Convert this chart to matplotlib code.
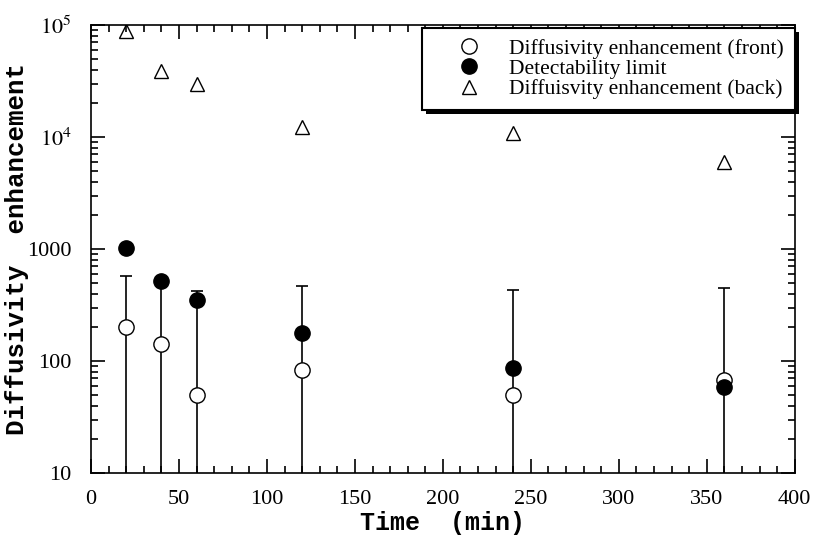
import numpy as np
import matplotlib
matplotlib.use('Agg')
import matplotlib.pyplot as plt
from matplotlib.patches import Rectangle
from matplotlib.ticker import FixedLocator, FixedFormatter, LogLocator, NullFormatter, MultipleLocator

# data
time_min = [20, 40, 60, 120, 240, 360]
front = [200, 141, 50, 83, 50, 67]
front_upper = [569, 500, 419, 463, 427, 445]
detect_limit = [1030, 513, 348, 177, 86, 58]
back = [88500, 39000, 29800, 12300, 10900, 6000]

y_ticks = [10, 100, 1000, 1e4, 1e5]
y_ticklabels = ['10', '100', '1000', r'$10^4$', r'$10^5$']

plt.rcParams['font.family'] = 'Liberation Serif'
plt.rcParams['mathtext.fontset'] = 'stix'

fig = plt.figure(figsize=(8.16, 5.42), dpi=100)
ax = fig.add_axes([0.1115, 0.1273, 0.8625, 0.8266])

# error bars on the front series, lower whiskers run off the bottom
t = np.array(time_min)
f = np.array(front)
lower = f - 5.0
upper = np.array(front_upper) - f
ax.errorbar(t, f, yerr=[lower, upper], fmt='none', ecolor='black',
            elinewidth=1.2, capsize=4, capthick=1.2, zorder=2)

ax.plot(time_min, front, linestyle='none', marker='o', markersize=11,
        markerfacecolor='white', markeredgecolor='black', markeredgewidth=1.0,
        label='Diffusivity enhancement (front)', zorder=3)
ax.plot(time_min, detect_limit, linestyle='none', marker='o', markersize=11,
        markerfacecolor='black', markeredgecolor='black',
        label='Detectability limit', zorder=4)
ax.plot(time_min, back, linestyle='none', marker='^', markersize=10,
        markerfacecolor='none', markeredgecolor='black', markeredgewidth=1.0,
        label='Diffuisvity enhancement (back)', zorder=3)

ax.set_yscale('log')
ax.set_xlim(0, 400)
ax.set_ylim(10, 1e5)

ax.xaxis.set_major_locator(MultipleLocator(50))
ax.xaxis.set_minor_locator(MultipleLocator(10))
ax.yaxis.set_major_locator(FixedLocator(y_ticks))
ax.yaxis.set_major_formatter(FixedFormatter(y_ticklabels))
ax.yaxis.set_minor_locator(LogLocator(base=10, subs=np.arange(2, 10)))
ax.yaxis.set_minor_formatter(NullFormatter())

ax.tick_params(which='both', direction='in', top=True, right=True, width=1.2)
ax.tick_params(which='major', length=10)
ax.tick_params(which='minor', length=5)
ax.tick_params(axis='x', which='major', labelsize=16, pad=12)
ax.tick_params(axis='y', which='major', labelsize=16, pad=14)
for s in ax.spines.values():
    s.set_linewidth(1.2)

ax.set_xlabel('Time  (min)', family='Liberation Mono', fontweight='bold',
              fontsize=18)
ax.set_ylabel('Diffusivity  enhancement', family='Liberation Mono',
              fontweight='bold', fontsize=18.5)
ax.xaxis.set_label_coords(0.5, -0.084)
ax.yaxis.set_label_coords(-0.088, 0.5)

leg = ax.legend(loc='upper right', bbox_to_anchor=(1.0, 0.993), borderaxespad=0,
                fontsize=15.5, frameon=True, fancybox=False, framealpha=1,
                edgecolor='black', handlelength=3.4, handletextpad=0.15,
                labelspacing=0.0, borderpad=0.5)
leg.get_frame().set_linewidth(1.5)
leg.set_zorder(10)

# hard black drop shadow behind the legend box
fig.canvas.draw()
bb = leg.get_window_extent()
shadow = Rectangle((bb.x0 + 4, bb.y0 - 4), bb.width, bb.height, transform=None,
                   facecolor='black', edgecolor='none', zorder=9, clip_on=False)
ax.add_artist(shadow)

fig.savefig('out.png', dpi=100)
